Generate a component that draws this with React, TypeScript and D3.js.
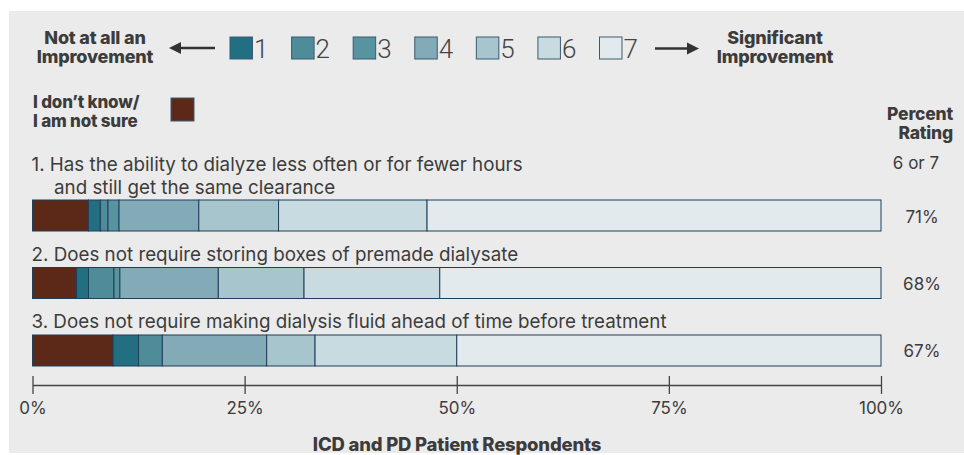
import React, { useEffect, useRef } from 'react';
import * as d3 from 'd3';

// question text, one entry per bar (extra lines wrap under the first)
const questions = [
  ['1. Has the ability to dialyze less often or for fewer hours', 'and still get the same clearance'],
  ['2. Does not require storing boxes of premade dialysate'],
  ['3. Does not require making dialysis fluid ahead of time before treatment'],
];

// percent of respondents per rating
const unsure = [6.6, 5.2, 9.5];
const rating1 = [1.4, 1.4, 3.0];
const rating2 = [0.9, 3.0, 2.8];
const rating3 = [1.3, 0.7, 0.0];
const rating4 = [9.4, 11.6, 12.3];
const rating5 = [9.4, 10.1, 5.7];
const rating6 = [17.5, 16.0, 16.7];
const rating7 = [53.5, 52.0, 50.0];

const ratingLabels = ['1', '2', '3', '4', '5', '6', '7'];
const tickValues = [0, 25, 50, 75, 100];

const keys = ['unsure', 'r1', 'r2', 'r3', 'r4', 'r5', 'r6', 'r7'];
const colors = ['#5c2818', '#236f82', '#4e8c9a', '#5893a0', '#82abb7', '#a6c5cc', '#c8dbe0', '#e2eaed'];

const FONT = "Inter, 'Noto Sans', sans-serif";
const TEXT = '#3c3c3c';

const App = () => {
  const ref = useRef(null);

  useEffect(() => {
    const svg = d3.select(ref.current);
    svg.selectAll('*').remove();

    svg.append('rect')
      .attr('x', 9).attr('y', 11)
      .attr('width', 955).attr('height', 442)
      .attr('fill', '#ebebeb');

    const g = svg.append('g').attr('font-family', FONT).attr('fill', TEXT);

    // ---- legend
    const bold = (x, y, txt, anchor, size) => g.append('text')
      .attr('x', x).attr('y', y)
      .attr('text-anchor', anchor)
      .attr('font-weight', 800)
      .attr('font-size', size)
      .attr('letter-spacing', -0.2)
      .text(txt);

    bold(95, 44, 'Not at all an', 'middle', 18);
    bold(95, 63, 'Improvement', 'middle', 18);
    bold(775, 44, 'Significant', 'middle', 18);
    bold(775, 63, 'Improvement', 'middle', 18);
    bold(33, 108, 'I don\u2019t know/', 'start', 17);
    bold(33, 126.5, 'I am not sure', 'start', 17);
    bold(953, 120, 'Percent', 'end', 17.5);
    bold(953, 139, 'Rating', 'end', 17.5);

    g.append('text')
      .attr('x', 916).attr('y', 169)
      .attr('text-anchor', 'middle')
      .attr('font-size', 17)
      .text('6 or 7');

    const arrow = (x1, x2, y) => {
      const dir = Math.sign(x2 - x1);
      g.append('line')
        .attr('x1', x1).attr('x2', x2 - dir * 6)
        .attr('y1', y).attr('y2', y)
        .attr('stroke', '#333').attr('stroke-width', 2.4);
      g.append('path')
        .attr('d', `M${x2},${y} L${x2 - dir * 12},${y - 6} L${x2 - dir * 12},${y + 6} Z`)
        .attr('fill', '#333');
    };
    arrow(215, 169, 48);
    arrow(655, 699, 48.5);

    const legendX = d3.scalePoint().domain(ratingLabels).range([230, 599.5]);
    const items = g.selectAll('.legend-item')
      .data(ratingLabels)
      .enter().append('g')
      .attr('class', 'legend-item')
      .attr('transform', d => `translate(${legendX(d)},37)`);
    items.append('rect')
      .attr('width', 22.5).attr('height', 22)
      .attr('fill', (d, i) => colors[i + 1])
      .attr('stroke', '#3b5a72').attr('stroke-width', 1);
    items.append('text')
      .attr('x', 24).attr('y', 20.5)
      .attr('font-family', "Roboto, 'Liberation Sans', sans-serif")
      .attr('font-weight', 300)
      .attr('font-size', 26)
      .attr('fill', '#444')
      .text(d => d);

    g.append('rect')
      .attr('x', 171).attr('y', 98)
      .attr('width', 23).attr('height', 23)
      .attr('fill', colors[0])
      .attr('stroke', '#3b5a72');

    // ---- bars
    const table = questions.map((q, i) => ({
      id: String(i),
      unsure: unsure[i],
      r1: rating1[i], r2: rating2[i], r3: rating3[i], r4: rating4[i],
      r5: rating5[i], r6: rating6[i], r7: rating7[i],
    }));

    const x = d3.scaleLinear().domain([0, 100]).range([32.5, 881]);
    const y = d3.scaleBand()
      .domain(table.map(d => d.id))
      .range([200, 366])
      .paddingInner(0.5407)
      .paddingOuter(0);

    const stacked = d3.stack().keys(keys)(table);

    g.selectAll('.series')
      .data(stacked)
      .enter().append('g')
      .attr('class', 'series')
      .attr('fill', (d, i) => colors[i])
      .selectAll('rect')
      .data(d => d)
      .enter().append('rect')
      .attr('x', d => x(d[0]))
      .attr('y', d => y(d.data.id))
      .attr('width', d => x(d[1]) - x(d[0]))
      .attr('height', y.bandwidth())
      .attr('stroke', '#1f3f5b')
      .attr('stroke-width', 1);

    // question labels above each bar
    questions.forEach((lines, i) => {
      const top = y(String(i));
      lines.forEach((line, j) => {
        g.append('text')
          .attr('x', j === 0 ? 31.5 : 54)
          .attr('y', top - 6.5 - (lines.length - 1 - j) * 22.5)
          .attr('font-size', 18.8)
          .text(line);
      });
      g.append('text')
        .attr('x', 922)
        .attr('y', top + y.bandwidth() / 2 + 7)
        .attr('text-anchor', 'middle')
        .attr('font-size', 17)
        .text(Math.round(rating6[i] + rating7[i]) + '%');
    });

    // ---- axis
    const axis = g.append('g')
      .attr('transform', 'translate(0,385)')
      .call(d3.axisBottom(x).tickValues(tickValues).tickFormat(d => d + '%').tickSizeOuter(0));
    axis.select('.domain').attr('stroke', '#444').attr('stroke-width', 1.3);
    axis.selectAll('.tick line').attr('y1', -9).attr('y2', 9).attr('stroke', '#444').attr('stroke-width', 1.3);
    axis.selectAll('.tick text')
      .attr('y', 29).attr('dy', null)
      .attr('font-family', FONT)
      .attr('font-size', 17)
      .attr('fill', TEXT);

    bold(457, 451, 'ICD and PD Patient Respondents', 'middle', 18.5);
  }, []);

  return (
    <svg ref={ref} width={964} height={455} style={{ position: 'absolute', left: 0, top: 0 }} />
  );
};

export default App;
